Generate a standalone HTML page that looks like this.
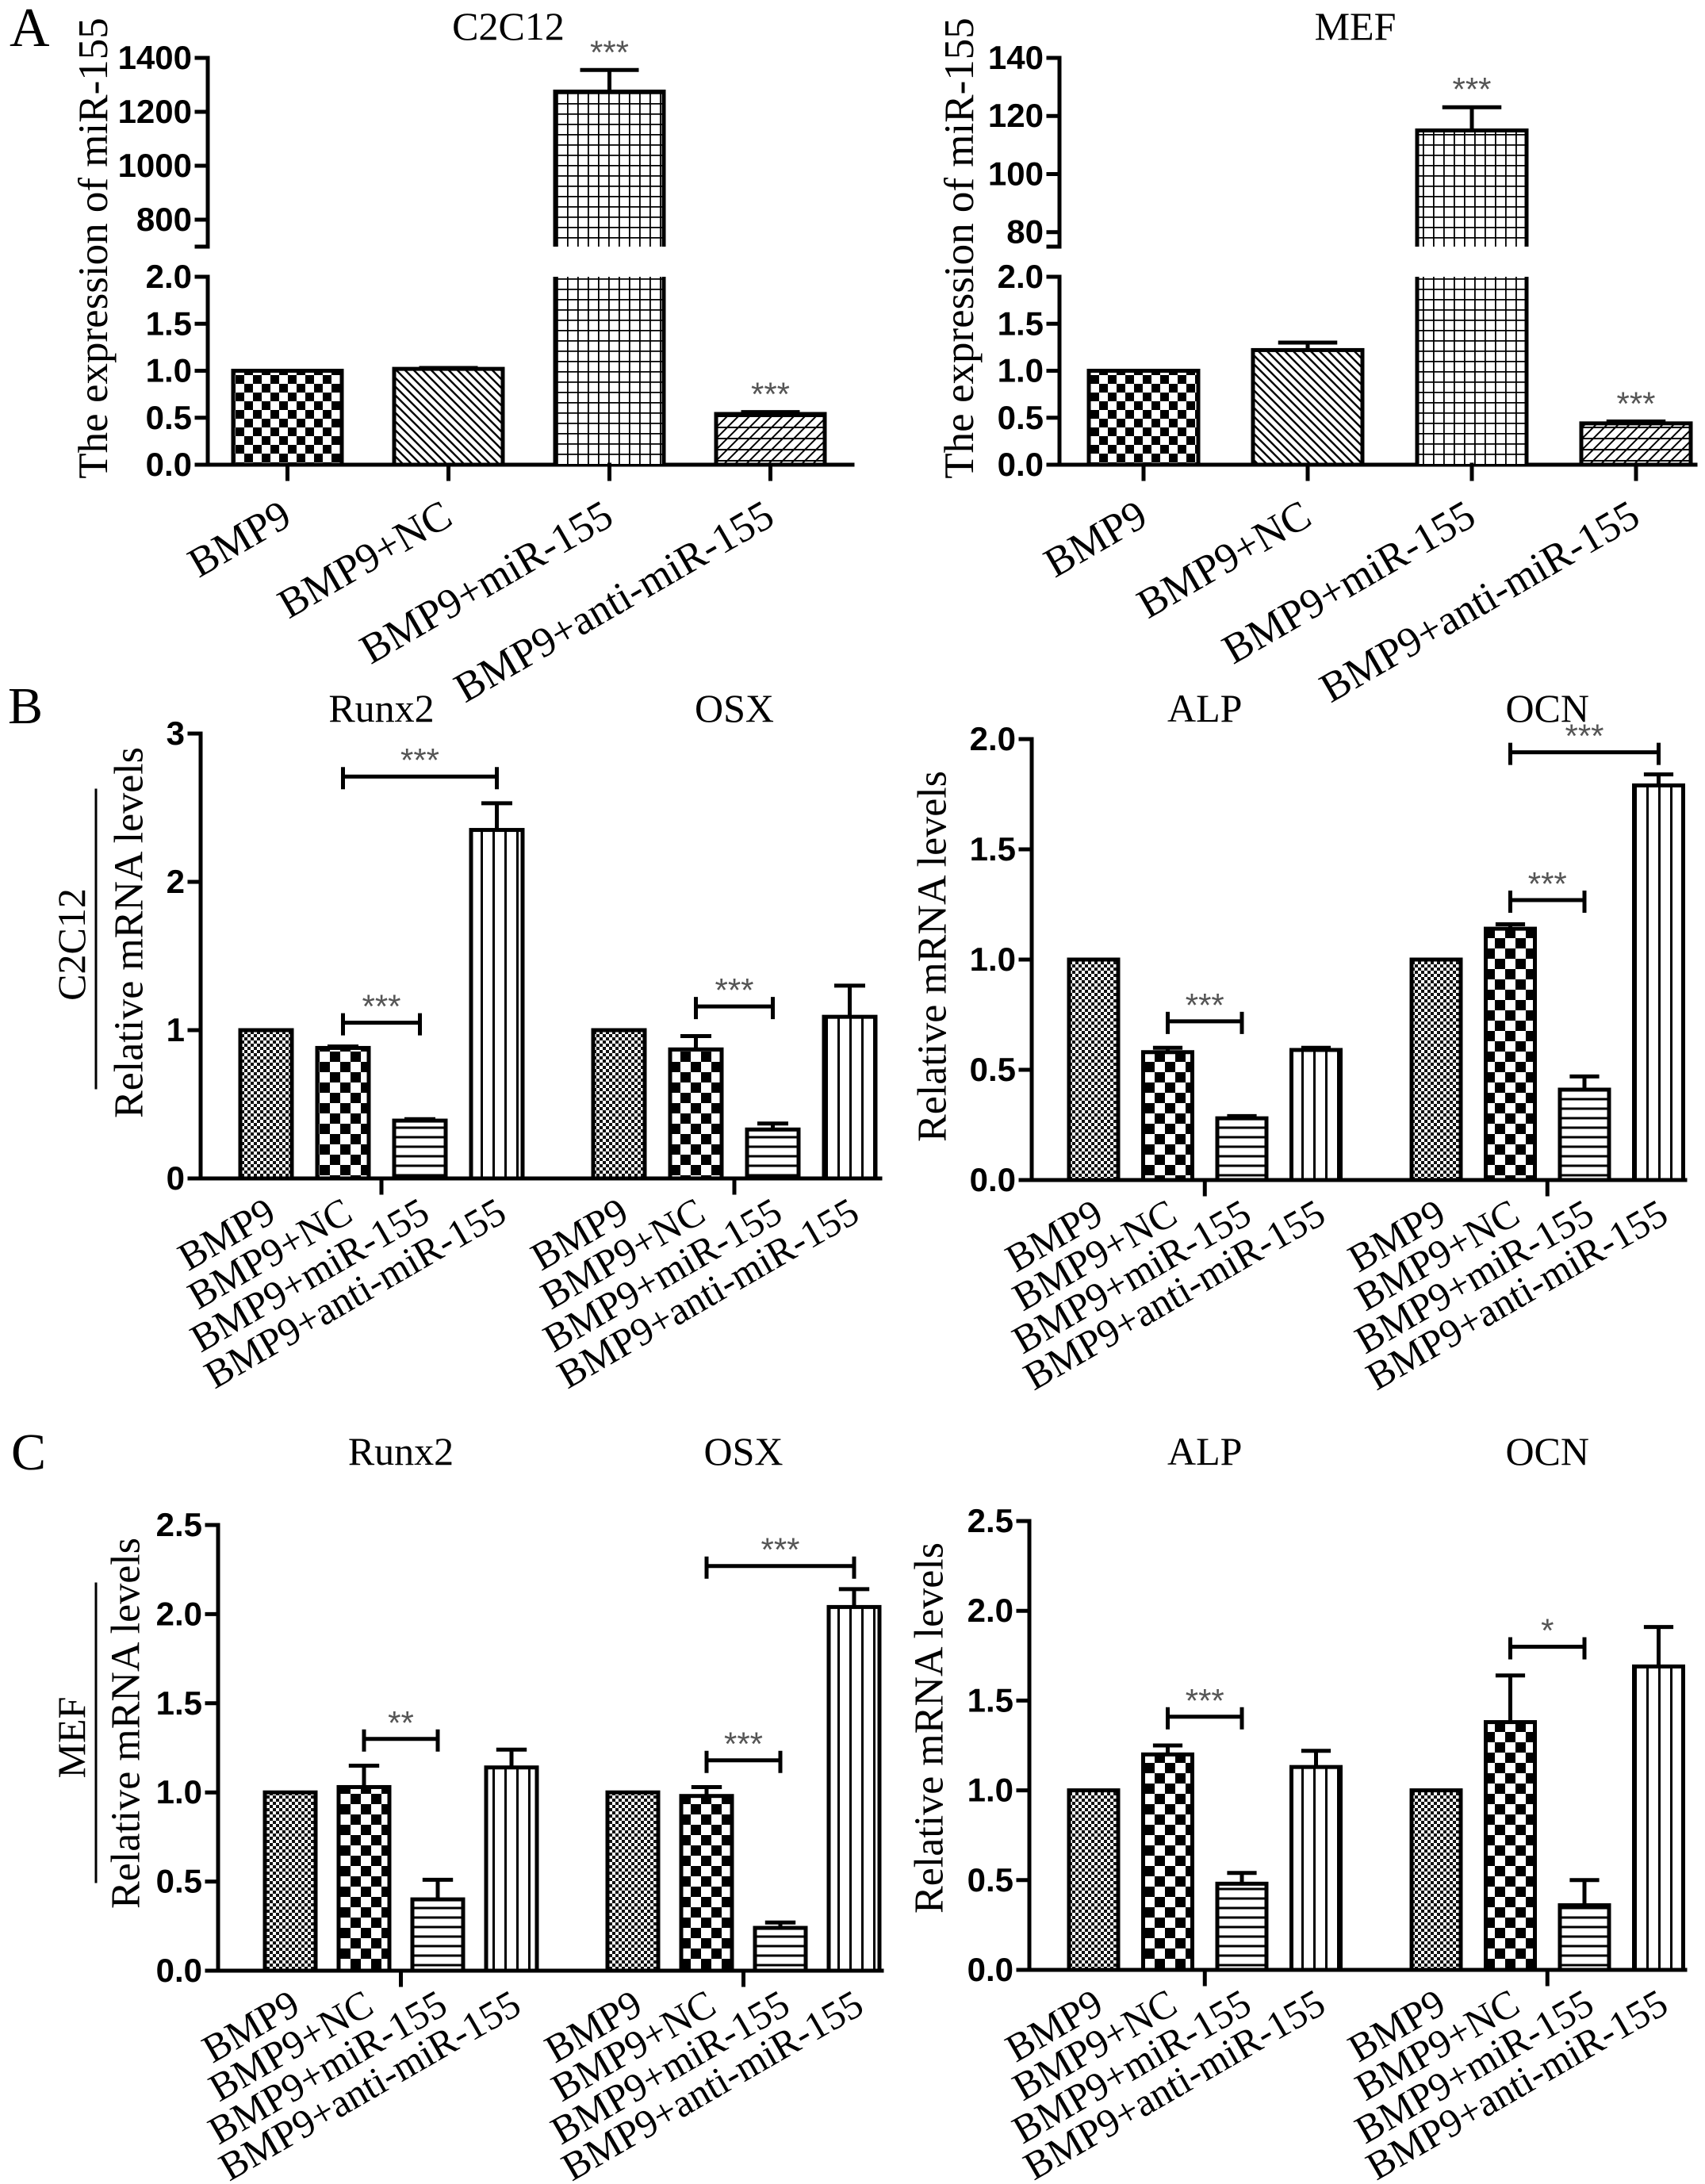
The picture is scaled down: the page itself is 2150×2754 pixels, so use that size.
<!DOCTYPE html>
<html><head><meta charset="utf-8"><style>
html,body{margin:0;padding:0;background:#fff;}
svg{display:block;}
text{font-family:"Liberation Serif",serif;}
.tk{font-family:"Liberation Sans",sans-serif;font-weight:bold;}
.st{font-family:"Liberation Sans",sans-serif;fill:#555;}
</style></head><body>
<svg id="fig" xmlns="http://www.w3.org/2000/svg" width="2150" height="2754" viewBox="0 0 2150 2754">
<defs>
<pattern id="pChkA" patternUnits="userSpaceOnUse" width="22" height="22"><rect width="22" height="22" fill="#fff"/><rect width="11" height="11" fill="#000"/><rect x="11" y="11" width="11" height="11" fill="#000"/></pattern>
<pattern id="pDiagA" patternUnits="userSpaceOnUse" width="11" height="11"><rect width="11" height="11" fill="#fff"/><path d="M-2,-2 L13,13 M-2,9 L2,13 M9,-2 L13,2" stroke="#000" stroke-width="2.4"/></pattern>
<pattern id="pGridA" patternUnits="userSpaceOnUse" width="13" height="13"><rect width="13" height="13" fill="#fff"/><path d="M0,0.5 H13 M0.5,0 V13" stroke="#000" stroke-width="2.6"/></pattern>
<pattern id="pAntiA" patternUnits="userSpaceOnUse" width="14" height="14"><rect width="14" height="14" fill="#fff"/><path d="M-2,16 L16,-2 M-2,2 L2,-2 M12,16 L16,12 M0,7 H14" stroke="#000" stroke-width="2"/></pattern>
<pattern id="pChkS" patternUnits="userSpaceOnUse" width="8" height="8"><rect width="8" height="8" fill="#fff"/><rect width="4" height="4" fill="#111"/><rect x="4" y="4" width="4" height="4" fill="#111"/></pattern>
<pattern id="pChkB" patternUnits="userSpaceOnUse" width="26" height="26"><rect width="26" height="26" fill="#fff"/><rect width="13" height="13" fill="#000"/><rect x="13" y="13" width="13" height="13" fill="#000"/></pattern>
<pattern id="pHor" patternUnits="userSpaceOnUse" width="12" height="12"><rect width="12" height="12" fill="#fff"/><path d="M0,6 H12" stroke="#000" stroke-width="3"/></pattern>
<pattern id="pVer" patternUnits="userSpaceOnUse" width="15" height="15"><rect width="15" height="15" fill="#fff"/><path d="M7.5,0 V15" stroke="#000" stroke-width="3"/></pattern>
</defs>
<text x="12" y="58" font-size="70">A</text>
<text x="10" y="912" font-size="66">B</text>
<text x="14" y="1853" font-size="66">C</text>
</svg>
<script>
// ---- data ----
const categories = ["BMP9","BMP9+NC","BMP9+miR-155","BMP9+anti-miR-155"];
// Panel A
const aC2C12Means = [1, 1.02, 1275, 0.54];
const aC2C12Tops  = [1, 1.03, 1355, 0.56];
const aC2C12Stars = ["", "", "***", "***"];
const aMEFMeans = [1, 1.22, 115, 0.44];
const aMEFTops  = [1, 1.30, 123, 0.46];
const aMEFStars = ["", "", "***", "***"];
const aLowerTicks = [0, 0.5, 1.0, 1.5, 2.0];
const aC2C12UpperTicks = [800, 1000, 1200, 1400];
const aMEFUpperTicks = [80, 100, 120, 140];
// Panel B (C2C12)
const bRunx2Means = [1, 0.88, 0.39, 2.35];
const bRunx2Tops  = [1, 0.89, 0.40, 2.53];
const bOSXMeans = [1, 0.87, 0.33, 1.09];
const bOSXTops  = [1, 0.96, 0.37, 1.30];
const bALPMeans = [1, 0.58, 0.28, 0.59];
const bALPTops  = [1, 0.60, 0.29, 0.60];
const bOCNMeans = [1, 1.14, 0.41, 1.79];
const bOCNTops  = [1, 1.16, 0.47, 1.84];
const bLeftTicks = [0, 1, 2, 3];
const bRightTicks = [0, 0.5, 1.0, 1.5, 2.0];
// brackets: [fromIndex, toIndex, level, label]
const bRunx2Brackets = [[1, 3, 2.71, "***"], [1, 2, 1.05, "***"]];
const bOSXBrackets = [[1, 2, 1.16, "***"]];
const bALPBrackets = [[1, 2, 0.72, "***"]];
const bOCNBrackets = [[1, 2, 1.27, "***"], [1, 3, 1.94, "***"]];
// Panel C (MEF)
const cRunx2Means = [1, 1.03, 0.40, 1.14];
const cRunx2Tops  = [1, 1.15, 0.51, 1.24];
const cOSXMeans = [1, 0.98, 0.24, 2.04];
const cOSXTops  = [1, 1.03, 0.27, 2.14];
const cALPMeans = [1, 1.20, 0.48, 1.13];
const cALPTops  = [1, 1.25, 0.54, 1.22];
const cOCNMeans = [1, 1.38, 0.36, 1.69];
const cOCNTops  = [1, 1.64, 0.50, 1.91];
const cTicks = [0, 0.5, 1.0, 1.5, 2.0, 2.5];
const cRunx2Brackets = [[1, 2, 1.30, "**"]];
const cOSXBrackets = [[1, 2, 1.18, "***"], [1, 3, 2.27, "***"]];
const cALPBrackets = [[1, 2, 1.41, "***"]];
const cOCNBrackets = [[1, 2, 1.80, "*"]];

const NS = "http://www.w3.org/2000/svg";
const svg = document.getElementById("fig");
function mk(tag, attrs, txt) {
  const e = document.createElementNS(NS, tag);
  for (const k in attrs) e.setAttribute(k, attrs[k]);
  if (txt !== undefined) e.textContent = txt;
  svg.appendChild(e);
  return e;
}
function line(x1, y1, x2, y2, w) {
  return mk("line", {x1: x1, y1: y1, x2: x2, y2: y2, stroke: "#000", "stroke-width": w || 5, "stroke-linecap": "square"});
}

// ---------- Panel A (broken axis) ----------
function drawBroken(cfg, means, tops, stars, upTicks, prefix) {
  const yLow = v => cfg.y0 - v / 2 * (cfg.y0 - cfg.y2);
  const yUp = v => cfg.upBot - (v - cfg.upMin) / (cfg.upMax - cfg.upMin) * (cfg.upBot - cfg.upTop);
  const pats = ["url(#pChkA)", "url(#pDiagA)", "url(#pGridA)", "url(#pAntiA)"];
  const t = mk("text", {x: cfg.titleX, y: 50, "font-size": 50, "text-anchor": "middle"}, cfg.title);
  
  
  const a1 = line(cfg.axisX, cfg.y2, cfg.axisX, cfg.y0);
  
  
  const a2 = line(cfg.axisX, cfg.upTop, cfg.axisX, cfg.upBot);
  
  
  const a3 = line(cfg.axisX, cfg.y0, cfg.xEnd, cfg.y0);
  
  
  aLowerTicks.forEach(v => {
    const tk = line(cfg.axisX - 14, yLow(v), cfg.axisX, yLow(v));
    
    
    const tl = mk("text", {x: cfg.axisX - 20, y: yLow(v) + 14, "font-size": 42, "text-anchor": "end", class: "tk"}, v.toFixed(1));
    
    
  });
  const tb = line(cfg.axisX - 14, cfg.upBot, cfg.axisX, cfg.upBot);
  
  
  upTicks.forEach(v => {
    const tk = line(cfg.axisX - 14, yUp(v), cfg.axisX, yUp(v));
    
    
    const tl = mk("text", {x: cfg.axisX - 20, y: yUp(v) + 14, "font-size": 42, "text-anchor": "end", class: "tk"}, String(v));
    
    
  });
  const yl = mk("text", {transform: "translate(" + cfg.ylabX + ",313) rotate(-90)", "font-size": 53, "text-anchor": "middle", "dominant-baseline": "central"}, "The expression of miR-155");
  
  
  means.forEach((v, i) => {
    const x = cfg.x0 + i * cfg.step, cx = x + cfg.bw / 2;
    let topY;
    if (v <= 2) {
      topY = yLow(v);
      const r = mk("rect", {x: x, y: topY, width: cfg.bw, height: cfg.y0 - topY, fill: pats[i], stroke: "#000", "stroke-width": 5});
      
      
    } else {
      const r1 = mk("rect", {x: x, y: cfg.y2, width: cfg.bw, height: cfg.y0 - cfg.y2, fill: pats[i]});
      
      
      const s1 = mk("path", {d: "M" + x + "," + cfg.y2 + " V" + cfg.y0 + " M" + (x + cfg.bw) + "," + cfg.y2 + " V" + cfg.y0, stroke: "#000", "stroke-width": 5, fill: "none"});
      
      
      topY = yUp(v);
      const r2 = mk("rect", {x: x, y: topY, width: cfg.bw, height: cfg.upBot - topY, fill: pats[i]});
      
      
      const s2 = mk("path", {d: "M" + x + "," + cfg.upBot + " V" + topY + " H" + (x + cfg.bw) + " V" + cfg.upBot, stroke: "#000", "stroke-width": 5, fill: "none"});
      
      
    }
    const tv = tops[i];
    const ey = tv <= 2 ? yLow(tv) : yUp(tv);
    if (ey < topY - 1) {
      const e = mk("path", {d: "M" + cx + "," + topY + " V" + ey + " M" + (cx - cfg.bw * 0.27) + "," + ey + " H" + (cx + cfg.bw * 0.27), stroke: "#000", "stroke-width": 5, fill: "none"});
      
      
    }
    if (stars[i]) {
      const st = mk("text", {x: cx, y: Math.min(ey, topY) - 8, "font-size": 42, "text-anchor": "middle", class: "st"}, stars[i]);
      
      
    }
    const xt = line(cx, cfg.y0, cx, cfg.y0 + 18);
    
    
    const lx = cx + 8, ly = cfg.y0 + 74;
    const lb = mk("text", {x: lx, y: ly, "font-size": 53, "text-anchor": "end", transform: "rotate(-30 " + lx + " " + ly + ")"}, categories[i]);
    
    
  });
}

drawBroken({axisX: 262, x0: 294, bw: 137, step: 203, xEnd: 1075, y0: 586, y2: 349, upTop: 73, upBot: 311, upMin: 700, upMax: 1400, title: "C2C12", titleX: 641, ylabX: 118},
  aC2C12Means, aC2C12Tops, aC2C12Stars, aC2C12UpperTicks, "a-c2c12");
drawBroken({axisX: 1336, x0: 1373, bw: 138, step: 207, xEnd: 2138, y0: 586, y2: 349, upTop: 73, upBot: 311, upMin: 75, upMax: 140, title: "MEF", titleX: 1709, ylabX: 1210},
  aMEFMeans, aMEFTops, aMEFStars, aMEFUpperTicks, "a-mef");

// ---------- Grouped panels (B, C) ----------
function drawGrouped(cfg, groupData, prefix) {
  const y = v => cfg.y0 - v / cfg.yMax * (cfg.y0 - cfg.yTopPix);
  const pats = ["url(#pChkS)", "url(#pChkB)", "url(#pHor)", "url(#pVer)"];
  const ax = line(cfg.axisX, cfg.yTopPix, cfg.axisX, cfg.y0);
  
  
  const xa = line(cfg.axisX, cfg.y0, cfg.xEnd, cfg.y0);
  
  
  cfg.ticks.forEach(v => {
    const tk = line(cfg.axisX - 14, y(v), cfg.axisX, y(v));
    
    
    const tl = mk("text", {x: cfg.axisX - 20, y: y(v) + 14, "font-size": 42, "text-anchor": "end", class: "tk"}, cfg.dec ? v.toFixed(1) : String(v));
    
    
  });
  const yl = mk("text", {transform: "translate(" + cfg.ylabX + "," + cfg.ylabY + ") rotate(-90)", "font-size": 52, "text-anchor": "middle", "dominant-baseline": "central"}, "Relative mRNA levels");
  
  
  groupData.forEach((g, gi) => {
    const gx = cfg.x0 + gi * cfg.groupOff;
    const gc = gx + (3 * cfg.step + cfg.bw) / 2;
    const t = mk("text", {x: gc, y: cfg.titleY, "font-size": 50, "text-anchor": "middle"}, g.name);
    
    
    const gt = line(gc, cfg.y0, gc, cfg.y0 + 18);
    
    
    const cxs = [];
    g.means.forEach((v, i) => {
      const x = gx + i * cfg.step, cx = x + cfg.bw / 2;
      cxs.push(cx);
      const top = y(v);
      const r = mk("rect", {x: x, y: top, width: cfg.bw, height: cfg.y0 - top, fill: pats[i], stroke: "#000", "stroke-width": 5});
      
      
      const ey = y(g.tops[i]);
      if (ey < top - 1) {
        const e = mk("path", {d: "M" + cx + "," + top + " V" + ey + " M" + (cx - cfg.bw * 0.3) + "," + ey + " H" + (cx + cfg.bw * 0.3), stroke: "#000", "stroke-width": 5, fill: "none"});
        
        
      }
      const lx = cx + 15, ly = cfg.y0 + 52;
      const lb = mk("text", {x: lx, y: ly, "font-size": 50, "text-anchor": "end", transform: "rotate(-30 " + lx + " " + ly + ")"}, categories[i]);
      
      
    });
    g.brackets.forEach(b => {
      const x1 = cxs[b[0]], x2 = cxs[b[1]], by = y(b[2]);
      const p = mk("path", {d: "M" + x1 + "," + (by - 12) + " V" + (by + 16) + " M" + x1 + "," + by + " H" + x2 + " M" + x2 + "," + (by - 12) + " V" + (by + 16), stroke: "#000", "stroke-width": 5, fill: "none"});
      
      
      const s = mk("text", {x: (x1 + x2) / 2, y: by - 6, "font-size": 42, "text-anchor": "middle", class: "st"}, b[3]);
      
      
    });
  });
}

drawGrouped({axisX: 253, y0: 1486, yTopPix: 925, yMax: 3, ticks: bLeftTicks, dec: false, x0: 303, bw: 65, step: 97, groupOff: 445, xEnd: 1110, titleY: 910, ylabX: 163, ylabY: 1176},
  [{name: "Runx2", means: bRunx2Means, tops: bRunx2Tops, brackets: bRunx2Brackets},
   {name: "OSX", means: bOSXMeans, tops: bOSXTops, brackets: bOSXBrackets}], "b-left");
drawGrouped({axisX: 1301, y0: 1488, yTopPix: 932, yMax: 2, ticks: bRightTicks, dec: true, x0: 1348, bw: 62, step: 93.5, groupOff: 432, xEnd: 2125, titleY: 910, ylabX: 1176, ylabY: 1206},
  [{name: "ALP", means: bALPMeans, tops: bALPTops, brackets: bALPBrackets},
   {name: "OCN", means: bOCNMeans, tops: bOCNTops, brackets: bOCNBrackets}], "b-right");
drawGrouped({axisX: 275, y0: 2485, yTopPix: 1923, yMax: 2.5, ticks: cTicks, dec: true, x0: 334, bw: 64, step: 93, groupOff: 432, xEnd: 1112, titleY: 1847, ylabX: 159, ylabY: 2173},
  [{name: "Runx2", means: cRunx2Means, tops: cRunx2Tops, brackets: cRunx2Brackets},
   {name: "OSX", means: cOSXMeans, tops: cOSXTops, brackets: cOSXBrackets}], "c-left");
drawGrouped({axisX: 1298, y0: 2484, yTopPix: 1918, yMax: 2.5, ticks: cTicks, dec: true, x0: 1348, bw: 62, step: 93.5, groupOff: 432, xEnd: 2125, titleY: 1847, ylabX: 1172, ylabY: 2179},
  [{name: "ALP", means: cALPMeans, tops: cALPTops, brackets: cALPBrackets},
   {name: "OCN", means: cOCNMeans, tops: cOCNTops, brackets: cOCNBrackets}], "c-right");

// row labels
const rl1 = mk("text", {transform: "translate(90,1191) rotate(-90)", "font-size": 50, "text-anchor": "middle", "dominant-baseline": "central"}, "C2C12");


const sep1 = line(121, 996, 121, 1372, 3);


const rl2 = mk("text", {transform: "translate(90,2191) rotate(-90)", "font-size": 50, "text-anchor": "middle", "dominant-baseline": "central"}, "MEF");


const sep2 = line(121, 1997, 121, 2373, 3);


</script>
</body></html>
